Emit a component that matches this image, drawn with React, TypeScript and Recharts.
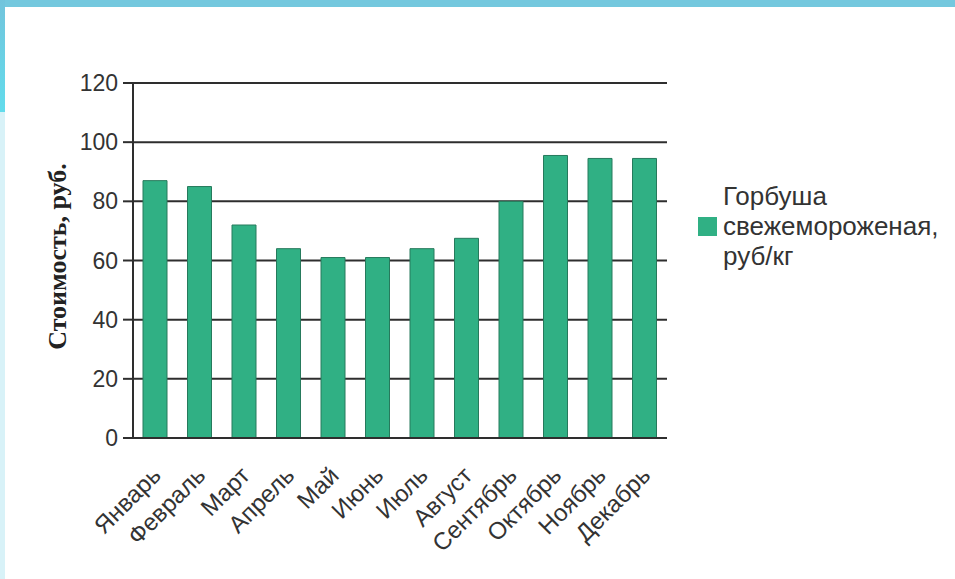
import React from 'react';
import { BarChart, Bar, XAxis, YAxis, CartesianGrid, Legend } from 'recharts';

const months = ['Январь', 'Февраль', 'Март', 'Апрель', 'Май', 'Июнь', 'Июль', 'Август', 'Сентябрь', 'Октябрь', 'Ноябрь', 'Декабрь'];
const prices = [87, 85, 72, 64, 61, 61, 64, 67.5, 80, 95.5, 94.5, 94.5];
const yTicks = [0, 20, 40, 60, 80, 100, 120];
const seriesName = 'Горбуша свежемороженая, руб/кг';
const legendLines = ['Горбуша', 'свежемороженая,', 'руб/кг'];
const yTitle = 'Стоимость, руб.';

const data = months.map((m, i) => ({ month: m, value: prices[i] }));

const FONT = '"Liberation Sans", Arial, sans-serif';
const BAR_FILL = '#30b084';
const BAR_STROKE = '#267a5c';
const LINE = '#2e2e2e';

const XTick = (props: any) => {
  const { x, y, payload } = props;
  return (
    <g transform={`translate(${x + 7},${y + 39})`}>
      <text
        textAnchor="end"
        transform="rotate(-45)"
        fontFamily={FONT}
        fontSize={24}
        fill="#333"
      >
        {payload.value}
      </text>
    </g>
  );
};

const YTitle = (props: any) => {
  const { viewBox } = props;
  const cx = 57;
  const cy = viewBox.y + viewBox.height / 2 - 4;
  return (
    <text
      x={cx}
      y={cy}
      transform={`rotate(-90, ${cx}, ${cy})`}
      textAnchor="middle"
      dominantBaseline="central"
      fontFamily='"Liberation Serif", "Times New Roman", serif'
      fontWeight="bold"
      fontSize={26}
      fill="#222"
    >
      {yTitle}
    </text>
  );
};

const LegendContent = () => (
  <div style={{ display: 'flex', alignItems: 'center', fontFamily: FONT, fontSize: 26, color: '#333', lineHeight: '30px' }}>
    <div style={{ width: 19, height: 19, background: BAR_FILL, marginRight: 6, flex: 'none' }} />
    <div>
      {legendLines.map((l) => (
        <div key={l}>{l}</div>
      ))}
    </div>
  </div>
);

export default function App() {
  return (
    <div style={{ position: 'absolute', left: 0, top: 0, width: 955, height: 579, background: '#fff', overflow: 'hidden' }}>
      <div style={{ position: 'absolute', left: 0, top: 0, width: 955, height: 7, background: '#74c8de' }} />
      <div style={{ position: 'absolute', left: 0, top: 0, width: 5, height: 112, background: 'linear-gradient(#72c4dc, #62dcec)' }} />
      <div style={{ position: 'absolute', left: 0, top: 112, width: 5, height: 467, background: '#d8f2f8' }} />
      <div style={{ position: 'absolute', left: 0, top: 0 }}>
        <BarChart
          width={955}
          height={579}
          data={data}
          margin={{ top: 83, right: 288, bottom: 81, left: 0 }}
          barSize={24}
        >
          <CartesianGrid vertical={false} stroke={LINE} strokeWidth={2} strokeOpacity={1} />
          <XAxis
            dataKey="month"
            height={60}
            interval={0}
            tickLine={false}
            tickSize={0}
            tickMargin={0}
            axisLine={{ stroke: LINE, strokeWidth: 2 }}
            tick={<XTick />}
          />
          <YAxis
            width={133}
            domain={[0, 120]}
            ticks={yTicks}
            interval={0}
            tickSize={10}
            tickMargin={5}
            tickLine={{ stroke: LINE, strokeWidth: 2 }}
            axisLine={{ stroke: LINE, strokeWidth: 2 }}
            tick={{ fontFamily: FONT, fontSize: 23, fill: '#333' }}
            label={<YTitle />}
          />
          <Legend
            layout="vertical"
            align="center"
            verticalAlign="middle"
            content={<LegendContent />}
            wrapperStyle={{ position: 'absolute', left: 698, top: 181, width: 257 }}
          />
          <Bar
            dataKey="value"
            name={seriesName}
            fill={BAR_FILL}
            stroke={BAR_STROKE}
            strokeWidth={1}
            isAnimationActive={false}
          />
        </BarChart>
      </div>
    </div>
  );
}
